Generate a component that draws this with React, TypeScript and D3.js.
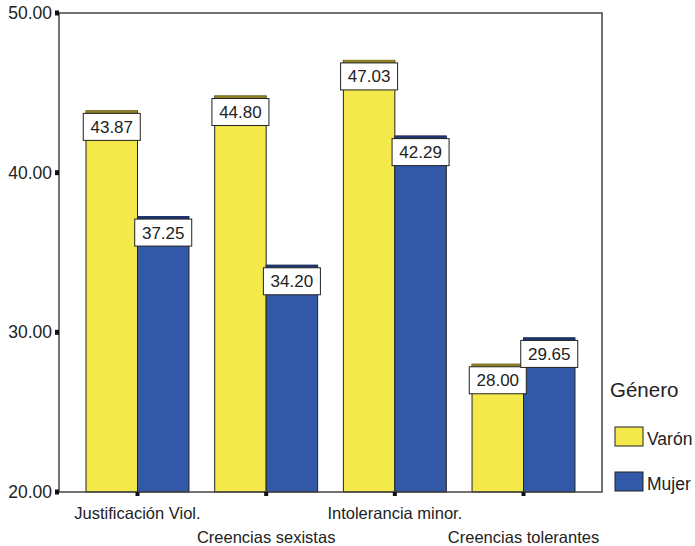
import React from "react";
import * as d3 from "d3";

const categories = ["Justificación Viol.", "Creencias sexistas", "Intolerancia minor.", "Creencias tolerantes"];
const series = ["Varón", "Mujer"];
const varon = [43.87, 44.8, 47.03, 28.0];
const mujer = [37.25, 34.2, 42.29, 29.65];
const yTicks = [20, 30, 40, 50];

const colors = ["#f4e94b", "#3259a8"];
const capColors = ["#8c7e22", "#1f356e"];

export default function App() {
  const W = 695, H = 546;
  const left = 59, right = 602, top = 13, bottom = 492;
  const x = d3.scaleBand<string>().domain(categories).range([left, right]).paddingInner(0.2).paddingOuter(0.21);
  const x1 = d3.scaleBand<string>().domain(series).range([0, x.bandwidth()]);
  const y = d3.scaleLinear().domain([20, 50]).range([bottom, top]);
  const font = "'Liberation Sans', Arial, sans-serif";
  const data = [varon, mujer];

  return (
    <svg width={W} height={H} style={{ position: "absolute", left: 0, top: 0, background: "#fff" }} fontFamily={font}>
      <rect x={0} y={0} width={W} height={H} fill="#fff" />
      {series.map((s, si) =>
        categories.map((c, ci) => {
          const v = data[si][ci];
          const bx = (x(c) ?? 0) + (x1(s) ?? 0);
          const bw = x1.bandwidth();
          const by = y(v);
          return (
            <g key={s + c}>
              <rect x={bx} y={by} width={bw} height={bottom - by} fill={colors[si]} stroke="#222" strokeWidth={1} />
              <rect x={bx} y={by - 0.5} width={bw} height={3} fill={capColors[si]} />
            </g>
          );
        })
      )}
      {series.map((s, si) =>
        categories.map((c, ci) => {
          const v = data[si][ci];
          const cx = (x(c) ?? 0) + (x1(s) ?? 0) + x1.bandwidth() / 2;
          const by = y(v) + 2.5;
          const bw = 57;
          const bh = 27;
          return (
            <g key={"l" + s + c}>
              <rect x={cx - bw / 2} y={by} width={bw} height={bh} fill="#fff" stroke="#222" strokeWidth={1} />
              <text x={cx} y={by + bh / 2 + 6} textAnchor="middle" fontSize={17} fill="#222">
                {v.toFixed(2)}
              </text>
            </g>
          );
        })
      )}
      <rect x={left} y={top} width={right - left} height={bottom - top} fill="none" stroke="#444" strokeWidth={1.5} />
      {yTicks.map((t) => (
        <g key={"y" + t}>
          <rect x={left - 4} y={y(t) - 2.5} width={4} height={5} fill="#111" />
          <text x={52} y={y(t) + 6} textAnchor="end" fontSize={17.5} fill="#222">
            {t.toFixed(2)}
          </text>
        </g>
      ))}
      {categories.map((c, i) => {
        const cx = (x(c) ?? 0) + x.bandwidth() / 2;
        return (
          <g key={"x" + c}>
            <rect x={cx - 2} y={bottom} width={4} height={4} fill="#111" />
            <text x={cx} y={i % 2 === 0 ? 519 : 543} textAnchor="middle" fontSize={16.5} fill="#222">
              {c}
            </text>
          </g>
        );
      })}
      <text x={610} y={397} fontSize={20.5} fill="#222">Género</text>
      {series.map((s, si) => (
        <g key={"lg" + s}>
          <rect x={615} y={427 + si * 45} width={28} height={19} fill={colors[si]} stroke="#222" strokeWidth={1} />
          <text x={647} y={445 + si * 45} fontSize={17.5} fill="#222">{s}</text>
        </g>
      ))}
    </svg>
  );
}
